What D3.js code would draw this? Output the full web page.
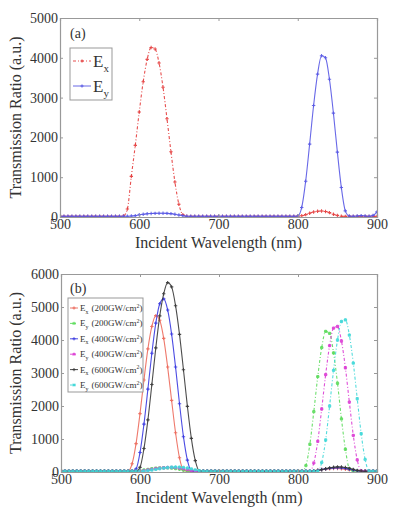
<!DOCTYPE html>
<html>
<head>
<meta charset="utf-8">
<script src="https://cdn.jsdelivr.net/npm/d3@7"></script>
<style>
  body { margin: 0; background: #fff; }
  text { font-family: "Liberation Serif", "Times New Roman", serif; fill: #333; }
</style>
</head>
<body>
<div id="plot"></div>
<script>
// wavelength grid (nm), shared by all curves
const wavelength = [
  500,505,510,515,520,525,530,535,540,545,
  550,555,560,565,570,575,580,585,590,595,
  600,605,610,615,620,625,630,635,640,645,
  650,655,660,665,670,675,680,685,690,695,
  700,705,710,715,720,725,730,735,740,745,
  750,755,760,765,770,775,780,785,790,795,
  800,805,810,815,820,825,830,835,840,845,
  850,855,860,865,870,875,880,885,890,895,
  900
];

// panel (a)
const exA = [
  15,15,15,15,15,15,15,15,15,15,
  15,15,15,15,15,15,25,200,1020,1800,
  2640,3400,3960,4260,4220,3870,3260,2470,1640,880,
  320,60,20,15,15,15,15,15,15,15,
  15,15,15,15,15,15,15,15,15,15,
  15,15,15,15,15,15,15,15,15,15,
  20,30,60,95,125,145,150,140,110,70,
  40,20,15,15,15,15,15,15,15,15,
  15
];
const eyA = [
  20,20,20,20,20,20,20,20,20,20,
  20,20,20,20,20,20,20,20,25,35,
  55,70,80,88,92,95,95,92,85,70,
  50,32,20,20,20,20,20,20,20,20,
  20,20,20,20,20,20,20,20,20,20,
  20,20,20,20,20,20,20,20,20,20,
  25,240,900,1830,2800,3590,4050,4000,3460,2610,
  1630,740,155,25,20,25,35,25,20,40,
  130
];

// panel (b)
const ex200 = [
  25,25,25,25,25,25,25,25,25,25,
  25,25,25,25,25,25,25,30,250,860,
  1770,2790,3730,4410,4740,4600,4050,3180,2170,1190,
  430,60,25,25,25,25,25,25,25,25,
  25,25,25,25,25,25,25,25,25,25,
  25,25,25,25,25,25,25,25,25,25,
  25,25,25,25,40,60,75,90,100,105,
  105,100,85,65,45,30,25,25,25,25,
  25
];
const ey200 = [
  25,25,25,25,25,25,25,25,25,25,
  25,25,25,25,25,25,25,25,25,28,
  40,60,80,100,115,125,130,128,120,105,
  85,60,40,28,25,25,25,25,25,25,
  25,25,25,25,25,25,25,25,25,25,
  25,25,25,25,25,25,25,25,25,25,
  25,25,195,840,1830,2890,3770,4260,4200,3610,
  2690,1610,690,100,25,25,25,25,25,25,
  25
];
const ex400 = [
  25,25,25,25,25,25,25,25,25,25,
  25,25,25,25,25,25,25,25,25,95,
  590,1450,2510,3600,4510,5100,5245,4910,4180,3180,
  2070,1070,360,40,25,25,25,25,25,25,
  25,25,25,25,25,25,25,25,25,25,
  25,25,25,25,25,25,25,25,25,25,
  25,25,25,25,30,50,75,95,115,125,
  130,125,110,85,60,40,28,25,25,25,
  25
];
const ey400 = [
  25,25,25,25,25,25,25,25,25,25,
  25,25,25,25,25,25,25,25,25,25,
  28,40,60,80,100,115,128,135,138,132,
  120,100,75,50,32,25,25,25,25,25,
  25,25,25,25,25,25,25,25,25,25,
  25,25,25,25,25,25,25,25,25,25,
  25,25,25,25,275,930,1910,2950,3830,4360,
  4410,3970,3160,2120,1110,365,35,25,25,25,
  25
];
const ex600 = [
  25,25,25,25,25,25,25,25,25,25,
  25,25,25,25,25,25,25,25,25,25,
  140,710,1580,2650,3760,4730,5400,5740,5610,5040,
  4170,3100,1990,1020,345,40,25,25,25,25,
  25,25,25,25,25,25,25,25,25,25,
  25,25,25,25,25,25,25,25,25,25,
  25,25,25,25,30,45,70,100,125,145,
  155,150,135,110,80,50,32,25,25,25,
  25
];
const ey600 = [
  25,25,25,25,25,25,25,25,25,25,
  25,25,25,25,25,25,25,25,25,25,
  25,28,40,60,80,100,120,135,145,150,
  148,138,120,95,65,40,28,25,25,25,
  25,25,25,25,25,25,25,25,25,25,
  25,25,25,25,25,25,25,25,25,25,
  25,25,25,25,25,25,290,970,2000,3080,
  4000,4560,4610,4150,3300,2220,1160,380,35,25,
  25
];

const xTicks = [500, 600, 700, 800, 900];
const yTicksA = [0, 1000, 2000, 3000, 4000, 5000];
const yTicksB = [0, 1000, 2000, 3000, 4000, 5000, 6000];

const serif = '"Liberation Serif", "Times New Roman", serif';

let width = 400, height = 513;

let svg = d3.select('#plot')
  .append('svg')
  .attr('width', width)
  .attr('height', height)
  .attr('font-family', serif);

// plus marker, and asterisk marker (plus + x)
function plusPath(pts, r) {
  return pts.map(p => `M${p[0]-r},${p[1]}h${2*r}M${p[0]},${p[1]-r}v${2*r}`).join('');
}
function starPath(pts, r) {
  let d = r * 0.75;
  return plusPath(pts, r) + pts.map(p =>
    `M${p[0]-d},${p[1]-d}l${2*d},${2*d}M${p[0]-d},${p[1]+d}l${2*d},${-2*d}`).join('');
}

function drawPanel(cfg) {
  let m = cfg.box;
  let x = d3.scaleLinear().domain([500, 900]).range([m.left, m.right]);
  let y = d3.scaleLinear().domain([0, cfg.yMax]).range([m.bottom, m.top]);

  let g = svg.append('g');

  g.append('clipPath').attr('id', 'clip' + cfg.id)
    .append('rect')
    .attr('x', m.left).attr('y', m.top - 2)
    .attr('width', m.right - m.left).attr('height', m.bottom - m.top + 2);

  // curves
  let line = d3.line()
    .x((d, i) => x(wavelength[i]))
    .y(d => y(d))
    .curve(d3.curveMonotoneX);

  let curves = g.append('g').attr('clip-path', `url(#clip${cfg.id})`);
  cfg.series.forEach(s => {
    curves.append('path')
      .attr('d', line(s.values))
      .attr('fill', 'none')
      .attr('stroke', s.color)
      .attr('stroke-width', 1.1)
      .attr('stroke-dasharray', s.dash || null)
      .attr('opacity', 0.9);
    let pts = s.values.map((v, i) => [x(wavelength[i]), y(v)]);
    curves.append('path')
      .attr('d', s.marker === 'star' ? starPath(pts, 1.7) : plusPath(pts, 1.7))
      .attr('fill', 'none')
      .attr('stroke', s.color)
      .attr('stroke-width', 1.1)
      .attr('opacity', 0.9);
  });

  // axes, MATLAB style box with inward ticks
  let bottom = g.append('g')
    .attr('transform', `translate(0,${m.bottom})`)
    .call(d3.axisBottom(x).tickValues(xTicks).tickSize(-3).tickPadding(2).tickFormat(d3.format('d')));
  let left = g.append('g')
    .attr('transform', `translate(${m.left},0)`)
    .call(d3.axisLeft(y).tickValues(cfg.yTicks).tickSize(-3).tickPadding(2).tickFormat(d3.format('d')));
  let top = g.append('g')
    .attr('transform', `translate(0,${m.top})`)
    .call(d3.axisTop(x).tickValues(xTicks).tickSize(-3).tickFormat(''));
  let right = g.append('g')
    .attr('transform', `translate(${m.right},0)`)
    .call(d3.axisRight(y).tickValues(cfg.yTicks).tickSize(-3).tickFormat(''));

  [bottom, left, top, right].forEach(a => {
    a.attr('font-family', serif);
    a.select('.domain').attr('stroke', '#999').attr('stroke-width', 1.2);
    a.selectAll('.tick line').attr('stroke', '#999');
    a.selectAll('.tick text')
      .attr('font-family', serif)
      .attr('font-size', 14)
      .attr('fill', '#333');
  });

  // titles
  g.append('text')
    .attr('x', (m.left + m.right) / 2)
    .attr('y', m.bottom + 31)
    .attr('text-anchor', 'middle')
    .attr('font-family', serif)
    .attr('font-size', 16)
    .text('Incident Wavelength (nm)');

  g.append('text')
    .attr('transform', `translate(21,${(m.top + m.bottom) / 2}) rotate(-90)`)
    .attr('text-anchor', 'middle')
    .attr('font-family', serif)
    .attr('font-size', 16)
    .text('Transmission Ratio (a.u.)');

  g.append('text')
    .attr('x', 70)
    .attr('y', cfg.tagY)
    .attr('font-family', serif)
    .attr('font-size', 14)
    .text(cfg.tag);

  // legend
  let L = cfg.legend;
  g.append('rect')
    .attr('x', L.x).attr('y', L.y)
    .attr('width', L.w).attr('height', L.h)
    .attr('fill', '#fff')
    .attr('stroke', '#999')
    .attr('stroke-width', 1);

  cfg.series.forEach((s, i) => {
    let cy = L.y + L.first + i * L.step;
    g.append('line')
      .attr('x1', L.x + L.lineX0).attr('x2', L.x + L.lineX1)
      .attr('y1', cy).attr('y2', cy)
      .attr('stroke', s.color)
      .attr('stroke-dasharray', s.dash || null)
      .attr('opacity', 0.9);
    let mx = (L.lineX0 + L.lineX1) / 2 + L.x;
    g.append('path')
      .attr('d', s.marker === 'star' ? starPath([[mx, cy]], 1.6) : plusPath([[mx, cy]], 1.6))
      .attr('fill', 'none')
      .attr('stroke', s.color)
      .attr('stroke-width', 0.9);

    let t = g.append('text')
      .attr('x', L.x + L.textX)
      .attr('y', cy + L.fs * 0.33)
      .attr('font-family', serif)
      .attr('font-size', L.fs)
      .attr('fill', '#444');
    t.append('tspan').text('E');
    t.append('tspan')
      .attr('font-size', L.fs * 0.65)
      .attr('dy', L.fs * 0.3)
      .text(s.sub);
    if (s.note) {
      t.append('tspan')
        .attr('dy', -L.fs * 0.3)
        .attr('dx', L.fs * 0.35)
        .text(s.note);
      t.append('tspan')
        .attr('font-size', L.fs * 0.65)
        .attr('dy', -L.fs * 0.35)
        .text('2');
      t.append('tspan')
        .attr('dy', L.fs * 0.35)
        .text(')');
    }
  });
}

drawPanel({
  id: 'a',
  box: { left: 60, right: 377, top: 18, bottom: 217 },
  yMax: 5000,
  yTicks: yTicksA,
  tag: '(a)',
  tagY: 38,
  legend: { x: 70, y: 48, w: 42, h: 52, first: 13, step: 25, lineX0: 3, lineX1: 21, textX: 23, fs: 17 },
  series: [
    { sub: 'x', values: exA, color: '#e43c3c', dash: '3,2,1,2', marker: 'plus' },
    { sub: 'y', values: eyA, color: '#5858e4', dash: null, marker: 'plus' }
  ]
});

drawPanel({
  id: 'b',
  box: { left: 61, right: 377, top: 274, bottom: 472 },
  yMax: 6000,
  yTicks: yTicksB,
  tag: '(b)',
  tagY: 293,
  legend: { x: 68, y: 298, w: 75, h: 94, first: 10, step: 15.4, lineX0: 2, lineX1: 10, textX: 12, fs: 9 },
  series: [
    { sub: 'x', note: '(200GW/cm', values: ex200, color: '#ec6a5c', dash: null, marker: 'plus' },
    { sub: 'y', note: '(200GW/cm', values: ey200, color: '#5cdc5c', dash: '3,2,1,2', marker: 'star' },
    { sub: 'x', note: '(400GW/cm', values: ex400, color: '#3838e0', dash: null, marker: 'plus' },
    { sub: 'y', note: '(400GW/cm', values: ey400, color: '#dc3cd4', dash: '3,2,1,2', marker: 'star' },
    { sub: 'x', note: '(600GW/cm', values: ex600, color: '#383838', dash: null, marker: 'plus' },
    { sub: 'y', note: '(600GW/cm', values: ey600, color: '#40d8d8', dash: '3,2,1,2', marker: 'star' }
  ]
});
</script>
</body>
</html>
